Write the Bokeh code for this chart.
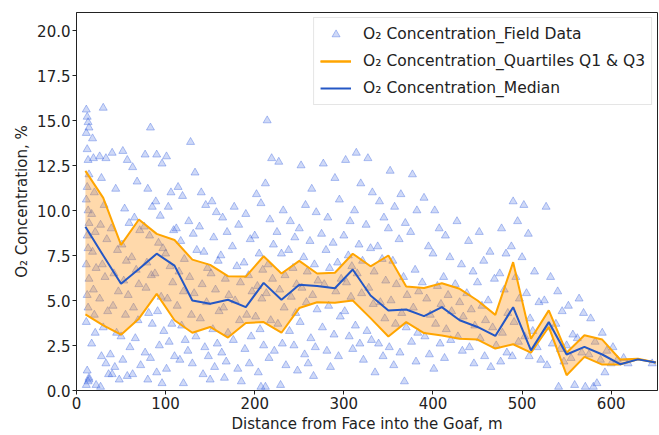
from bokeh.plotting import figure
from bokeh.models import Range1d, FixedTicker, NumeralTickFormatter, ColumnDataSource
from bokeh.embed import file_html
from bokeh.resources import INLINE

# Distance bins (m)
dist = [10, 30, 50, 70, 90, 110, 130, 150, 170, 190, 210, 230, 250, 270, 290, 310,
        330, 350, 370, 390, 410, 430, 450, 470, 490, 510, 530, 550, 570, 590, 610, 630, 650]

o2_median = [9.1, 7.5, 5.93, 6.75, 7.6, 6.94, 5.0, 4.82, 5.04, 4.63, 5.98, 5.04, 5.87, 5.8, 5.68, 6.72,
             5.28, 4.45, 4.5, 4.13, 4.63, 3.9, 3.53, 3.03, 4.63, 2.23, 3.8, 2.0, 2.42, 2.0, 1.46, 1.73, 1.55]

o2_q3 = [12.2, 10.7, 8.09, 9.5, 8.7, 8.36, 7.27, 6.98, 6.35, 6.33, 7.46, 6.5, 7.2, 6.5, 6.54, 7.6,
         6.9, 7.5, 5.78, 5.69, 5.96, 5.65, 5.0, 4.2, 7.13, 2.88, 4.45, 2.1, 3.07, 2.83, 1.72, 1.77, 1.55]

o2_q1 = [4.23, 3.62, 3.1, 3.99, 5.37, 3.9, 3.21, 3.53, 2.94, 3.75, 3.8, 3.21, 4.58, 4.9, 4.87, 5.0,
         4.02, 3.0, 3.8, 3.19, 3.06, 2.88, 2.83, 2.33, 2.57, 2.1, 3.53, 0.85, 1.87, 1.44, 1.44, 1.73, 1.55]

# Field data (distance m, O2 %)
field_data = [
    (11, 15.6), (12, 15.2), (13, 14.9), (14, 14.6), (11, 14.3), (12, 13.4), (13, 12.8), (14, 12.0),
    (12, 11.3), (11, 10.6), (13, 10.0), (14, 9.3), (12, 8.6), (13, 7.9), (11, 7.0), (14, 6.2),
    (12, 5.3), (13, 4.6), (11, 3.8), (12, 1.1), (14, 0.7), (13, 0.5), (11, 0.3), (14, 0.6),
    (18, 14.0), (19, 12.9), (20, 11.0), (17, 9.8), (21, 8.8), (18, 7.7), (22, 6.8), (19, 5.6),
    (20, 4.2), (21, 3.2), (17, 2.6), (22, 0.3),
    (30, 15.7), (26, 13.0), (33, 12.9), (28, 11.8), (31, 10.3), (27, 9.2), (34, 8.4), (29, 7.0),
    (32, 6.3), (26, 5.1), (35, 4.4), (30, 3.5), (28, 1.9), (33, 1.5), (36, 0.9), (27, 0.2),
    (40, 13.2), (44, 11.2), (39, 9.0), (46, 7.8), (42, 6.5), (47, 5.5), (41, 4.7), (45, 3.2),
    (38, 2.0), (43, 1.3), (48, 0.6), (40, 0.9),
    (52, 13.3), (57, 12.8), (54, 10.1), (59, 9.3), (51, 8.1), (56, 7.2), (53, 6.1), (58, 5.3),
    (55, 4.2), (50, 3.0), (60, 2.4), (52, 1.7), (57, 0.8),
    (63, 12.4), (68, 11.6), (65, 9.6), (71, 8.9), (62, 7.4), (67, 6.7), (70, 5.9), (64, 4.6),
    (69, 3.9), (66, 2.9), (72, 1.4), (63, 0.9),
    (83, 14.6), (77, 13.1), (80, 11.2), (85, 10.2), (76, 9.1), (82, 8.6), (79, 7.1), (84, 6.4),
    (78, 5.7), (81, 4.3), (85, 3.7), (77, 2.1), (83, 1.8), (80, 0.6),
    (90, 13.1), (96, 12.6), (89, 10.5), (94, 9.7), (92, 8.2), (97, 7.9), (88, 6.5), (95, 5.2),
    (91, 4.4), (98, 3.3), (93, 2.5), (90, 1.0), (96, 0.4),
    (101, 13.0), (106, 11.0), (103, 10.2), (109, 8.9), (100, 7.6), (105, 6.9), (108, 6.0), (102, 5.1),
    (107, 3.7), (104, 2.7), (110, 1.9), (101, 1.2),
    (114, 11.3), (119, 10.8), (112, 9.0), (117, 8.3), (121, 7.3), (115, 6.6), (120, 5.5), (113, 4.7),
    (118, 3.6), (122, 2.8), (116, 1.7), (120, 0.4),
    (128, 13.8), (133, 12.1), (126, 9.4), (131, 8.7), (135, 7.8), (127, 6.3), (132, 5.4), (129, 4.2),
    (134, 3.0), (125, 2.2), (130, 1.5),
    (140, 11.0), (145, 10.3), (138, 9.1), (143, 7.7), (147, 6.8), (141, 5.9), (146, 4.9), (139, 4.0),
    (144, 2.4), (148, 1.9), (142, 0.9),
    (152, 10.5), (157, 9.9), (154, 8.5), (159, 7.2), (151, 6.5), (156, 5.6), (160, 4.4), (153, 3.4),
    (158, 2.6), (155, 1.3), (150, 0.6),
    (164, 9.6), (169, 8.8), (162, 7.5), (167, 6.2), (171, 5.3), (165, 4.6), (170, 3.2), (163, 2.1),
    (168, 1.6), (166, 0.7),
    (177, 10.2), (182, 9.2), (175, 8.0), (180, 6.9), (184, 6.0), (178, 5.0), (183, 3.9), (176, 2.8),
    (181, 1.2), (185, 0.5),
    (190, 9.8), (195, 8.4), (188, 7.1), (193, 6.4), (197, 5.5), (191, 4.2), (196, 3.0), (189, 2.3),
    (194, 1.5),
    (202, 10.9), (207, 10.4), (200, 8.6), (205, 7.6), (209, 6.7), (203, 5.8), (208, 5.1), (201, 4.1),
    (206, 3.4), (210, 2.5), (204, 1.0), (207, 0.2),
    (214, 15.0), (219, 12.9), (212, 11.5), (217, 9.5), (221, 8.1), (215, 7.0), (220, 6.2), (213, 5.4),
    (218, 3.9), (222, 2.2), (216, 1.8), (229, 0.3),
    (227, 12.7), (232, 10.0), (225, 8.8), (230, 7.6), (234, 6.4), (228, 5.6), (233, 4.6), (226, 3.7),
    (231, 2.6), (235, 1.4), (212, 0.2),
    (240, 9.4), (245, 8.5), (238, 7.8), (243, 6.8), (247, 5.9), (241, 5.2), (246, 4.3), (239, 3.3),
    (244, 2.5), (248, 1.1),
    (252, 12.5), (257, 10.3), (250, 9.0), (255, 7.4), (259, 6.6), (253, 5.7), (258, 4.9), (251, 3.8),
    (256, 2.0), (260, 1.5),
    (264, 11.2), (269, 9.9), (262, 8.3), (267, 7.0), (271, 6.1), (265, 5.3), (270, 4.5), (263, 2.9),
    (268, 2.4), (266, 0.8),
    (277, 12.6), (282, 9.6), (275, 8.7), (280, 7.8), (284, 6.8), (278, 5.9), (283, 4.7), (276, 3.5),
    (281, 2.2), (285, 1.3),
    (290, 11.8), (295, 10.6), (288, 8.2), (293, 7.1), (297, 6.2), (291, 5.5), (296, 4.1), (289, 3.1),
    (294, 1.9),
    (302, 12.8), (307, 9.4), (300, 8.6), (305, 7.5), (309, 6.9), (303, 6.0), (308, 5.2), (301, 4.4),
    (306, 3.0), (310, 2.3),
    (314, 13.2), (319, 11.5), (312, 10.0), (317, 8.1), (321, 7.2), (315, 6.5), (320, 5.4), (313, 3.6),
    (318, 2.6), (322, 1.7),
    (327, 12.9), (332, 11.0), (325, 9.2), (330, 7.9), (334, 6.6), (328, 5.7), (333, 4.8), (326, 3.3),
    (331, 2.8), (335, 1.0),
    (340, 10.5), (345, 9.6), (338, 8.0), (343, 7.3), (347, 6.1), (341, 4.9), (346, 4.0), (339, 2.6),
    (344, 1.9),
    (352, 12.2), (357, 10.2), (350, 9.0), (355, 7.2), (359, 5.9), (353, 5.0), (358, 3.7), (351, 2.4),
    (356, 1.4),
    (364, 10.9), (369, 9.3), (362, 8.4), (367, 6.3), (371, 5.3), (365, 4.3), (370, 3.5), (363, 2.1),
    (368, 0.5),
    (377, 12.0), (382, 10.0), (375, 8.8), (380, 6.7), (384, 5.5), (378, 4.6), (383, 3.2), (376, 2.7),
    (381, 1.6),
    (390, 10.7), (395, 8.0), (388, 6.0), (393, 5.1), (397, 4.2), (391, 3.0), (396, 2.0),
    (402, 10.0), (407, 9.0), (400, 7.6), (405, 5.8), (409, 4.8), (403, 3.7), (408, 2.6), (401, 1.2),
    (414, 8.6), (419, 7.4), (412, 6.3), (417, 5.3), (421, 4.4), (415, 3.4), (420, 2.8), (413, 1.8),
    (427, 9.4), (432, 7.0), (425, 5.9), (430, 4.9), (434, 4.1), (428, 3.0), (433, 2.2),
    (440, 8.3), (445, 6.6), (438, 5.4), (443, 4.5), (447, 3.6), (441, 2.4), (446, 1.5),
    (452, 8.8), (457, 7.2), (450, 6.0), (455, 4.7), (459, 3.9), (453, 2.9), (458, 1.9),
    (464, 7.7), (469, 6.2), (462, 5.0), (467, 3.5), (471, 2.5), (465, 1.3),
    (477, 9.0), (482, 7.6), (475, 6.5), (480, 5.6), (484, 4.3), (478, 3.2), (483, 2.1), (476, 1.6),
    (490, 10.5), (495, 9.4), (488, 8.0), (493, 6.3), (497, 5.1), (491, 3.8), (496, 2.7), (489, 1.9),
    (502, 10.3), (507, 8.7), (500, 7.4), (505, 5.4), (509, 4.0), (503, 3.0), (508, 1.9),
    (514, 6.6), (519, 4.9), (512, 3.3), (517, 2.4), (521, 1.7),
    (527, 10.2), (532, 6.3), (525, 5.0), (530, 3.5), (534, 2.6), (528, 1.4),
    (540, 5.5), (545, 4.4), (538, 3.7), (543, 2.3), (547, 1.6), (541, 0.2),
    (552, 4.7), (557, 3.1), (550, 2.5), (555, 1.8), (559, 0.3),
    (564, 5.1), (569, 4.3), (562, 2.9), (567, 2.1), (571, 0.2),
    (577, 4.0), (582, 2.7), (575, 2.0), (580, 0.2), (584, 0.4),
    (590, 3.2), (595, 2.2), (588, 1.7), (593, 1.0),
    (602, 2.4), (607, 1.7), (600, 1.5),
    (614, 1.8), (619, 1.5),
    (646, 1.5),
]
field_x = [pt[0] for pt in field_data]
field_y = [pt[1] for pt in field_data]

x_ticks = [0, 100, 200, 300, 400, 500, 600]
y_ticks = [0, 2.5, 5, 7.5, 10, 12.5, 15, 17.5, 20]

FONT = "DejaVu Sans"

p = figure(width=659, height=435, x_range=Range1d(0, 652), y_range=Range1d(0, 21),
           output_backend="svg", toolbar_location=None,
           min_border_left=76, min_border_top=12, min_border_right=2, min_border_bottom=43)

p.xgrid.visible = False
p.ygrid.visible = False
p.outline_line_color = "#222222"
p.outline_line_width = 1
p.background_fill_color = "white"
p.border_fill_color = "white"

p.scatter(field_x, field_y, marker="triangle", size=8,
          fill_color="royalblue", fill_alpha=0.25, line_color="royalblue", line_alpha=0.4,
          legend_label="O₂ Concentration_Field Data")

src = ColumnDataSource(dict(x=dist, q1=o2_q1, q3=o2_q3, med=o2_median))
p.varea(x="x", y1="q1", y2="q3", source=src, fill_color="#FF8C00", fill_alpha=0.33)
p.line(x="x", y="q1", source=src, line_color="#FFA500", line_width=2,
       legend_label="O₂ Concentration_Quartiles Q1 & Q3")
p.line(x="x", y="q3", source=src, line_color="#FFA500", line_width=2,
       legend_label="O₂ Concentration_Quartiles Q1 & Q3")
p.line(x="x", y="med", source=src, line_color="#2457C5", line_width=2,
       legend_label="O₂ Concentration_Median")

for ax in (p.xaxis[0], p.yaxis[0]):
    ax.axis_line_color = "#222222"
    ax.major_tick_line_color = "#222222"
    ax.major_tick_out = 4
    ax.major_tick_in = 0
    ax.minor_tick_line_color = None
    ax.major_label_text_font = FONT
    ax.major_label_text_font_size = "15px"
    ax.major_label_text_color = "#222222"
    ax.axis_label_text_font = FONT
    ax.axis_label_text_font_size = "15px"
    ax.axis_label_text_font_style = "normal"
    ax.axis_label_text_color = "#222222"
    ax.major_label_standoff = 2
    ax.axis_label_standoff = 3

p.xaxis.ticker = FixedTicker(ticks=x_ticks)
p.yaxis.ticker = FixedTicker(ticks=y_ticks)
p.yaxis.formatter = NumeralTickFormatter(format="0.0")
p.xaxis.axis_label = "Distance from Face into the Goaf, m"
p.yaxis.axis_label = "O₂ Concentration, %"

lg = p.legend[0]
lg.location = "top_right"
lg.margin = 5
lg.label_text_font = FONT
lg.label_text_font_size = "15.5px"
lg.label_text_color = "#222222"
lg.glyph_width = 31
lg.glyph_height = 20
lg.label_height = 20
lg.label_standoff = 12
lg.spacing = 7
lg.padding = 6
lg.border_line_color = "#cccccc"
lg.border_line_width = 1
lg.background_fill_alpha = 0.85

open("out.html", "w").write(file_html(p, INLINE))
